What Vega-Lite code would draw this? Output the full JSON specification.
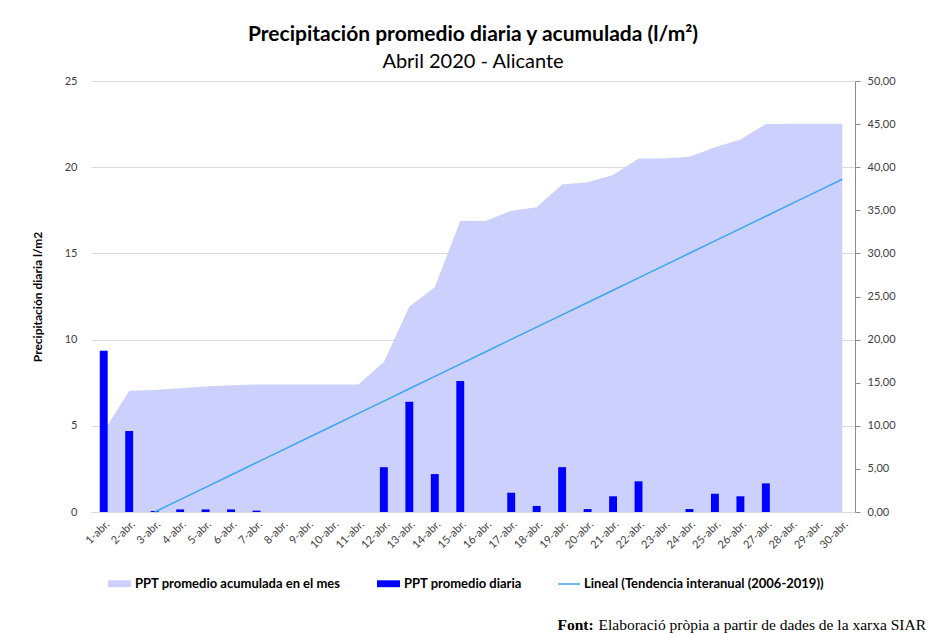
{
  "$schema": "https://vega.github.io/schema/vega-lite/v6.json",
  "width": 764,
  "height": 431,
  "autosize": {"type": "none"},
  "padding": {"left": 91, "top": 81, "right": 78, "bottom": 122},
  "background": "white",
  "config": {
    "locale": {"number": {"decimal": ",", "thousands": ".", "grouping": [3], "currency": ["", " €"]}},
    "font": "Lato",
    "view": {"stroke": null}
  },
  "title": {
    "text": "Precipitación promedio diaria y acumulada (l/m²)",
    "subtitle": "Abril 2020 - Alicante",
    "font": "Lato",
    "fontSize": 21,
    "fontWeight": "bold",
    "color": "#000000",
    "subtitleFont": "Lato",
    "subtitleFontSize": 20,
    "subtitleColor": "#000000",
    "subtitlePadding": 7,
    "anchor": "middle",
    "frame": "group",
    "offset": 3
  },
  "data": {
    "values": [
      {"dia": "1-abr.", "diaria": 9.35, "acum": 9.35, "tend": null},
      {"dia": "2-abr.", "diaria": 4.7, "acum": 14.07, "tend": null},
      {"dia": "3-abr.", "diaria": 0.06, "acum": 14.15, "tend": 0.0},
      {"dia": "4-abr.", "diaria": 0.15, "acum": 14.35, "tend": 1.43},
      {"dia": "5-abr.", "diaria": 0.15, "acum": 14.55, "tend": 2.86},
      {"dia": "6-abr.", "diaria": 0.15, "acum": 14.7, "tend": 4.29},
      {"dia": "7-abr.", "diaria": 0.08, "acum": 14.8, "tend": 5.72},
      {"dia": "8-abr.", "diaria": 0, "acum": 14.8, "tend": 7.15},
      {"dia": "9-abr.", "diaria": 0, "acum": 14.8, "tend": 8.58},
      {"dia": "10-abr.", "diaria": 0, "acum": 14.8, "tend": 10.01},
      {"dia": "11-abr.", "diaria": 0, "acum": 14.8, "tend": 11.44},
      {"dia": "12-abr.", "diaria": 2.6, "acum": 17.4, "tend": 12.87},
      {"dia": "13-abr.", "diaria": 6.4, "acum": 23.85, "tend": 14.3},
      {"dia": "14-abr.", "diaria": 2.2, "acum": 26.07, "tend": 15.73},
      {"dia": "15-abr.", "diaria": 7.6, "acum": 33.76, "tend": 17.16},
      {"dia": "16-abr.", "diaria": 0, "acum": 33.76, "tend": 18.59},
      {"dia": "17-abr.", "diaria": 1.12, "acum": 34.95, "tend": 20.02},
      {"dia": "18-abr.", "diaria": 0.35, "acum": 35.35, "tend": 21.44},
      {"dia": "19-abr.", "diaria": 2.6, "acum": 38.0, "tend": 22.87},
      {"dia": "20-abr.", "diaria": 0.17, "acum": 38.25, "tend": 24.3},
      {"dia": "21-abr.", "diaria": 0.91, "acum": 39.1, "tend": 25.73},
      {"dia": "22-abr.", "diaria": 1.78, "acum": 41.0, "tend": 27.16},
      {"dia": "23-abr.", "diaria": 0, "acum": 41.0, "tend": 28.59},
      {"dia": "24-abr.", "diaria": 0.17, "acum": 41.2, "tend": 30.02},
      {"dia": "25-abr.", "diaria": 1.06, "acum": 42.3, "tend": 31.45},
      {"dia": "26-abr.", "diaria": 0.91, "acum": 43.2, "tend": 32.88},
      {"dia": "27-abr.", "diaria": 1.66, "acum": 45.0, "tend": 34.31},
      {"dia": "28-abr.", "diaria": 0, "acum": 45.05, "tend": 35.74},
      {"dia": "29-abr.", "diaria": 0, "acum": 45.05, "tend": 37.17},
      {"dia": "30-abr.", "diaria": 0, "acum": 45.05, "tend": 38.6}
    ]
  },
  "encoding": {
    "x": {
      "field": "dia",
      "type": "nominal",
      "sort": null,
      "scale": {"paddingInner": 0, "paddingOuter": 0},
      "axis": {
        "title": "Elaboració pròpia a partir de dades de la xarxa SIAR",
        "titleFont": "Liberation Serif",
        "titleFontSize": 15.5,
        "titleFontWeight": "normal",
        "titleColor": "#000000",
        "titleAlign": "left",
        "titleAnchor": null,
        "titleBaseline": "alphabetic",
        "titleX": 507,
        "titleY": 117,
        "labelAngle": -45,
        "labelFontSize": 11,
        "labelColor": "#404040",
        "labelFont": "Lato",
        "labelPadding": 6,
        "ticks": false,
        "domainColor": "#d9d9d9",
        "grid": false
      }
    }
  },
  "layer": [
    {
      "mark": {"type": "area", "opacity": 1},
      "encoding": {
        "y": {
          "field": "acum",
          "type": "quantitative",
          "scale": {"domain": [0, 50], "nice": false},
          "axis": {
            "orient": "right",
            "values": [0, 5, 10, 15, 20, 25, 30, 35, 40, 45, 50],
            "format": ".2f",
            "grid": false,
            "domain": true,
            "domainColor": "#8c8c8c",
            "ticks": true,
            "tickColor": "#8c8c8c",
            "tickSize": 5,
            "labelPadding": 7,
            "labelFontSize": 11,
            "labelColor": "#404040",
            "labelFont": "Lato",
            "title": "Font:",
            "titleFont": "Liberation Serif",
            "titleFontSize": 15.5,
            "titleFontWeight": "bold",
            "titleColor": "#000000",
            "titleAngle": 0,
            "titleAlign": "left",
            "titleBaseline": "alphabetic",
            "titleAnchor": null,
            "titleX": -298,
            "titleY": 548
          }
        },
        "fill": {
          "datum": "PPT promedio acumulada en el mes",
          "scale": {
            "domain": ["PPT promedio acumulada en el mes", "PPT promedio diaria"],
            "range": ["#ccd0fc", "#0000ff"]
          },
          "legend": {
            "title": null,
            "orient": "none",
            "direction": "horizontal",
            "legendX": 17,
            "legendY": 491,
            "symbolType": "M-1,-0.3H1V0.3H-1Z",
            "symbolSize": 529,
            "symbolStrokeWidth": 0,
            "labelFont": "Lato",
            "labelFontSize": 13,
            "labelFontWeight": "bold",
            "labelColor": "#000000",
            "labelOffset": 4,
            "columnPadding": 36,
            "labelLimit": 400
          }
        }
      }
    },
    {
      "mark": {"type": "bar", "width": {"band": 0.31}},
      "encoding": {
        "y": {
          "field": "diaria",
          "type": "quantitative",
          "scale": {"domain": [0, 25], "nice": false},
          "axis": {
            "orient": "left",
            "values": [0, 5, 10, 15, 20, 25],
            "grid": true,
            "gridColor": "#d9d9d9",
            "domain": false,
            "ticks": false,
            "labelPadding": 14,
            "labelFontSize": 11,
            "labelColor": "#404040",
            "labelFont": "Lato",
            "title": "Precipitación diaria l/m2",
            "titleFont": "Lato",
            "titleFontSize": 12,
            "titleFontWeight": "bold",
            "titleColor": "#000000",
            "titlePadding": 20
          }
        },
        "fill": {"datum": "PPT promedio diaria"}
      }
    },
    {
      "mark": {"type": "line", "strokeWidth": 1.5},
      "encoding": {
        "y": {
          "field": "tend",
          "type": "quantitative",
          "scale": {"domain": [0, 50], "nice": false},
          "axis": null
        },
        "stroke": {
          "datum": "Lineal (Tendencia interanual (2006-2019))",
          "scale": {"range": ["#3aa6f2"]},
          "legend": {
            "title": null,
            "orient": "none",
            "legendX": 466,
            "legendY": 491,
            "symbolType": "stroke",
            "symbolSize": 484,
            "symbolStrokeWidth": 1.5,
            "labelFont": "Lato",
            "labelFontSize": 13,
            "labelFontWeight": "bold",
            "labelColor": "#000000",
            "labelOffset": 3,
            "labelLimit": 400
          }
        }
      }
    }
  ],
  "resolve": {"scale": {"y": "independent", "fill": "shared"}}
}
